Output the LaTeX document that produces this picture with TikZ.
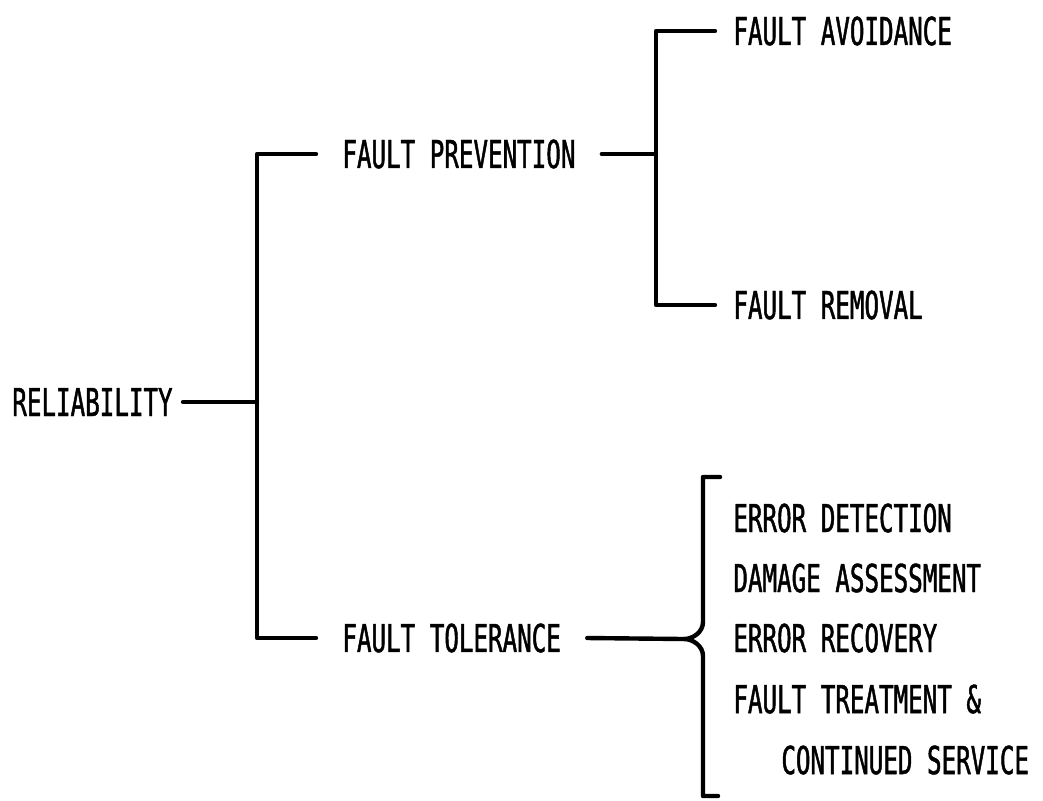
\documentclass[tikz,border=0pt]{standalone}
\usepackage{fontspec}
\newfontfamily\plotfont[FakeStretch=0.63, FakeBold=1.2]{DejaVu Sans Mono}
\usetikzlibrary{positioning}

\begin{document}
\begin{tikzpicture}[
    x=0.5pt, y=-0.5pt,
    every node/.style={font=\plotfont\fontsize{19.2}{22}\selectfont, inner ysep=0pt},
    term/.style={inner xsep=5pt},
    branch/.style={inner xsep=13pt},
    leaf/.style={inner xsep=9pt},
    item/.style={inner sep=0pt, anchor=base west},
    bracket/.style={line width=2.2pt, line cap=round, line join=round}
]

% page size
\useasboundingbox (0,0) rectangle (1043,800);

% Root
\node[term, anchor=west] (rel) at (2,402) {RELIABILITY};
\coordinate (trunk) at (257,402);

% Two main branches
\node[branch, anchor=west] (prev) at (316,154) {FAULT PREVENTION};
\node[branch, anchor=west] (tol) at (316,638) {FAULT TOLERANCE};

% Prevention leaves
\coordinate (fork) at (656,154);
\node[leaf, anchor=west] (avoid) at (715,31) {FAULT AVOIDANCE};
\node[leaf, anchor=west] (remove) at (715,305) {FAULT REMOVAL};

% Tolerance steps
\node[item] (det) at (733,532) {ERROR DETECTION};
\node[item] (dmg) at (733,592) {DAMAGE ASSESSMENT};
\node[item] (rec) at (733,652) {ERROR RECOVERY};
\node[item] (treat) at (733,713) {FAULT TREATMENT \&};
\node[item] (cont) at (781,774) {CONTINUED SERVICE};

% Brace ends
\coordinate (tip) at (684,639);
\coordinate (bracetop) at (720,477);
\coordinate (bracebot) at (718,796);

% Trunk
\draw[bracket] (rel.east) -- (trunk);
\draw[bracket] (prev.west) -- (prev.west -| trunk) -- (tol.west -| trunk) -- (tol.west);

% Prevention fork
\draw[bracket] (prev.east) -- (prev.east -| fork);
\draw[bracket] (avoid.west) -- (avoid.west -| fork) -- (remove.west -| fork) -- (remove.west);

% Tolerance brace
\draw[bracket] (tol.east) -- (tip);
\draw[bracket] (bracetop) -- (703,477) -- (703,622)
    .. controls (703,632) and (693,639) .. (tip)
    .. controls (693,639) and (703,646) .. (703,656) -- (703,796) -- (bracebot);

\end{tikzpicture}
\end{document}
